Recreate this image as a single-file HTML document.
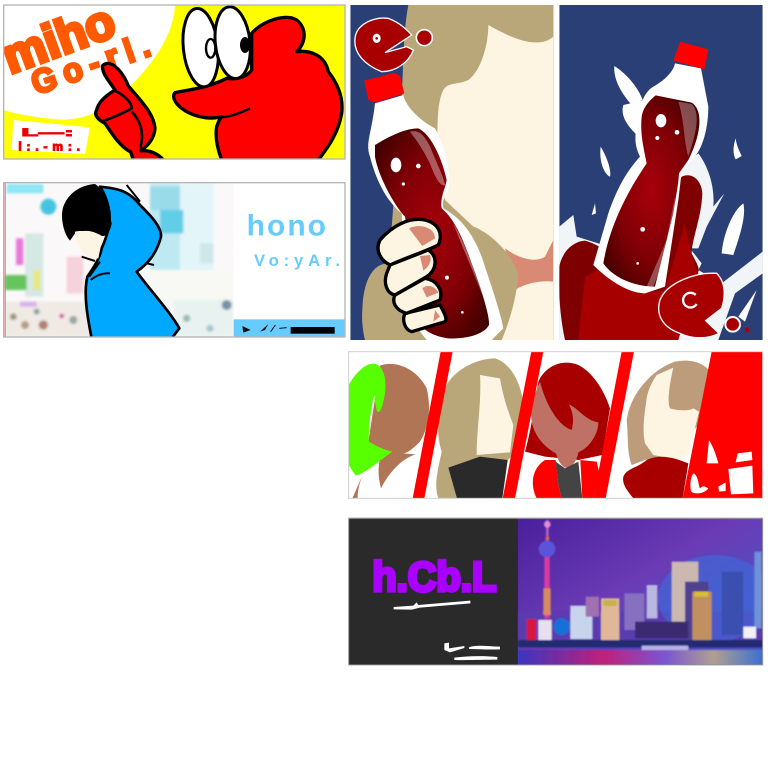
<!DOCTYPE html>
<html lang="en">
<head>
<meta charset="utf-8">
<title>Poster collage</title>
<style>
html,body{margin:0;padding:0;background:#fff;width:768px;height:768px;overflow:hidden}
svg{display:block}
text{font-family:"Liberation Sans",sans-serif;font-weight:bold}
</style>
</head>
<body>
<svg xmlns="http://www.w3.org/2000/svg" width="768" height="768" viewBox="0 0 768 768">
<defs>
<radialGradient id="cola" cx="50%" cy="50%" r="60%"><stop offset="0" stop-color="#a8000a"/><stop offset=".6" stop-color="#7e0005"/><stop offset="1" stop-color="#470000"/></radialGradient>
<linearGradient id="sky" x1="0" y1="0" x2="1" y2="1"><stop offset="0" stop-color="#4a1f9c"/><stop offset=".45" stop-color="#6a3bb5"/><stop offset="1" stop-color="#3f5fd0"/></linearGradient>
<linearGradient id="water" x1="0" y1="0" x2="1" y2="0"><stop offset="0" stop-color="#3a35c0"/><stop offset=".35" stop-color="#c0207a"/><stop offset=".6" stop-color="#7a55d0"/><stop offset=".8" stop-color="#b0a090"/><stop offset="1" stop-color="#3a70d0"/></linearGradient>
<filter id="blur3" x="-10%" y="-10%" width="120%" height="120%"><feGaussianBlur stdDeviation="4"/></filter>
<filter id="blur1" x="-10%" y="-10%" width="120%" height="120%"><feGaussianBlur stdDeviation="2"/></filter>
<clipPath id="c1"><rect x="11" y="15" width="1024" height="462"/></clipPath>
<clipPath id="c2"><rect x="11" y="548" width="1024" height="463"/></clipPath>
<clipPath id="c3"><rect x="16" y="15" width="609" height="1005"/></clipPath>
<clipPath id="c4"><rect x="643" y="15" width="610" height="1005"/></clipPath>
<clipPath id="c5"><rect x="11" y="20" width="1242" height="440"/></clipPath>
<clipPath id="c6"><rect x="519" y="520" width="734" height="440"/></clipPath>
</defs>

<!-- LEFT COLUMN -->
<g transform="scale(.33333)">
  <g clip-path="url(#c1)">
    <rect x="11" y="15" width="1024" height="462" fill="#ffff00"/>
    <path d="M11,15 L525,15 C520,120 440,210 380,270 C330,330 240,365 170,358 C100,352 40,340 11,330Z" fill="#fff"/>
    <text transform="translate(30,222) rotate(-20) scale(1.05,1.3)" font-size="112" fill="#ff5a00" stroke="#ff5a00" stroke-width="9" textLength="330" lengthAdjust="spacingAndGlyphs">miho</text>
    <text transform="translate(108,285) rotate(-19) scale(1,1.05)" font-size="96" fill="#ff5a00" stroke="#ff5a00" stroke-width="8" textLength="370" lengthAdjust="spacing">Go-rl.</text>
    <path d="M40,360 L270,382 L255,462 L35,450Z" fill="#fff"/>
    <text x="65" y="408" font-size="34" fill="#ee0000" stroke="#ee0000" stroke-width="3" textLength="155" lengthAdjust="spacingAndGlyphs">L---:</text>
    <text x="55" y="452" font-size="36" fill="#ee0000" stroke="#ee0000" stroke-width="3" textLength="185" lengthAdjust="spacing">l:.-m:.</text>
    <path d="M755,100 C790,60 860,40 890,60 C920,85 920,125 890,155 C930,150 975,165 985,215 C1020,260 1030,300 1025,340 C1015,400 985,440 955,480 L665,480 C650,440 645,410 650,380 C655,365 660,355 665,350 C620,362 570,345 545,325 C525,310 515,290 525,278 C560,270 620,265 680,235 C720,240 745,225 755,210Z" fill="#ff0000" stroke="#000" stroke-width="10" stroke-linejoin="round"/>
    <path d="M750,325 C720,340 690,350 665,352" fill="none" stroke="#000" stroke-width="7"/>
    <ellipse cx="602" cy="143" rx="52" ry="118" transform="rotate(-6 602 143)" fill="#fff" stroke="#000" stroke-width="9"/>
    <ellipse cx="698" cy="128" rx="52" ry="108" transform="rotate(-6 698 128)" fill="#fff" stroke="#000" stroke-width="9"/>
    <ellipse cx="632" cy="145" rx="14" ry="28" fill="#fff" stroke="#000" stroke-width="7"/>
    <ellipse cx="735" cy="135" rx="15" ry="24" fill="#000"/>
    <path d="M308,197 C325,178 362,200 385,258 C420,300 462,340 465,385 C462,420 440,440 422,452 C445,450 472,458 490,480 L400,480 L392,456 C360,440 335,400 315,370 C295,360 280,345 290,330 C295,305 320,285 345,270 C325,240 305,220 308,197Z" fill="#ff0000" stroke="#000" stroke-width="10" stroke-linejoin="round"/>
    <path d="M345,272 C370,285 395,305 395,325 C360,345 330,355 305,365 M395,335 C420,360 435,400 420,445" fill="none" stroke="#000" stroke-width="8"/>
  </g>
  <rect x="11" y="15" width="1024" height="462" fill="none" stroke="#b5b5b5" stroke-width="4"/>

  <g clip-path="url(#c2)">
    <rect x="11" y="548" width="690" height="463" fill="#fbf8f9"/>
    <g filter="url(#blur3)">
      <rect x="450" y="550" width="190" height="260" fill="#bfe9f2"/>
      <rect x="540" y="550" width="100" height="260" fill="#e3f5f8"/>
      <rect x="450" y="560" width="90" height="70" fill="#9adbea"/>
      <rect x="480" y="630" width="70" height="70" fill="#62cde6"/>
      <rect x="600" y="730" width="40" height="60" fill="#cfe6ea"/>
      <rect x="20" y="552" width="110" height="28" fill="#8fe6f5"/>
      <circle cx="145" cy="620" r="24" fill="#45c4e2"/>
      <rect x="75" y="700" width="55" height="190" fill="#d5e8e4"/>
      <rect x="48" y="715" width="22" height="80" fill="#e878d8"/>
      <rect x="15" y="825" width="65" height="45" fill="#66c45c"/>
      <rect x="200" y="770" width="50" height="110" fill="#f6d2dc"/>
      <rect x="100" y="810" width="20" height="60" fill="#e8e880"/>
      <rect x="15" y="905" width="260" height="105" fill="#efeae4"/>
      <rect x="60" y="905" width="50" height="15" fill="#d8b0e8"/>
      <circle cx="40" cy="950" r="10" fill="#a09080"/><circle cx="75" cy="975" r="12" fill="#b89c84"/><circle cx="130" cy="975" r="14" fill="#b08070"/><circle cx="220" cy="960" r="12" fill="#98a4a4"/><circle cx="185" cy="948" r="7" fill="#d040a0"/><circle cx="110" cy="935" r="9" fill="#8aa0a8"/>
      <rect x="440" y="810" width="260" height="100" fill="#f8f9f4"/>
      <rect x="520" y="900" width="180" height="110" fill="#e8f3f1"/>
      <circle cx="680" cy="915" r="15" fill="#7890a4"/><circle cx="560" cy="955" r="11" fill="#9cb8b8"/><circle cx="630" cy="985" r="11" fill="#a8c8c8"/>
    </g>
    <rect x="14" y="548" width="3" height="463" fill="#e86a70"/>
    <rect x="701" y="548" width="334" height="463" fill="#fff"/>
    <rect x="701" y="958" width="334" height="53" fill="#66ccff"/>
    <rect x="872" y="981" width="132" height="20" fill="#000"/>
    <path d="M727,978 L752,990 L730,998Z M780,995 L805,972 L795,990Z" fill="#111"/>
    <path d="M812,995 L826,975 M838,985 L860,983" stroke="#111" stroke-width="3"/>
    <text x="740" y="706" font-size="90" fill="#66ccff" textLength="238" lengthAdjust="spacing">hono</text>
    <text x="762" y="798" font-size="50" fill="#66ccff" textLength="258" lengthAdjust="spacing">Vo:yAr.</text>
    <path d="M300,560 C350,565 385,570 420,615 C450,645 485,680 483,710 C470,760 445,790 410,815 C450,870 510,935 538,985 L515,1015 L275,1015 C262,950 250,880 262,830 C290,790 300,770 305,745 C325,700 335,660 325,620 C318,590 310,575 300,560Z" fill="#00a8ff" stroke="#000" stroke-width="8" stroke-linejoin="round"/>
    <path d="M285,552 C310,565 325,620 335,670 C330,700 315,720 290,700 C270,690 245,690 225,700 L210,722 C190,700 180,650 190,620 C205,580 240,555 285,552Z" fill="#000"/>
    <path d="M225,695 C245,690 265,695 290,700 C305,705 310,710 305,725 L295,775 L280,775 C255,770 240,745 225,720Z" fill="#fdf4e4"/>
    <path d="M245,770 L285,783 M300,785 L268,830 M272,840 C290,825 310,818 330,820 M380,555 L420,605 M440,790 L462,795" fill="none" stroke="#000" stroke-width="6"/>
  </g>
  <rect x="11" y="548" width="1024" height="463" fill="none" stroke="#b5b5b5" stroke-width="4"/>
</g>

<!-- COLA POSTERS -->
<g transform="translate(345,0) scale(.33333)">
  <g clip-path="url(#c3)">
    <rect x="16" y="15" width="609" height="1005" fill="#2a3f76"/>
    <path d="M190,15 L625,15 L625,720 L300,720 L140,680 L170,300 C175,200 175,90 190,15Z" fill="#b9a77a"/>
    <path d="M430,75 C500,115 580,150 625,110 L625,1020 L470,1020 L385,680 L300,600 L275,420 C280,370 275,310 295,270 C310,245 340,255 370,240 C410,210 430,130 430,75Z" fill="#fdf4e1"/>
    <path d="M480,745 C520,775 570,790 600,770 L625,720 L625,845 C590,840 540,850 510,870Z" fill="#d98a74"/>
    <path d="M385,680 C440,700 510,770 520,830 C515,880 500,950 470,1020 L60,1020 C52,990 50,950 52,930 C55,830 90,790 130,790Z" fill="#b9a77a"/>
    <path d="M90,310 L175,285 C185,330 240,370 270,385 C300,440 320,520 310,570 C300,590 290,600 295,625 C340,650 380,690 410,770 C440,860 470,950 475,985 L440,1020 L245,1020 L190,950 L170,640 C120,600 90,530 75,470 C60,430 80,400 90,310Z" fill="#fff"/>
    <path d="M58,242 L148,218 L165,228 L178,280 L92,308 L70,300Z" fill="#ff0000"/>
    <path d="M90,435 C130,410 180,385 220,385 C255,400 290,470 305,540 C300,570 285,590 290,625 C320,650 345,690 380,790 C410,870 435,950 432,975 C420,1000 370,1018 310,1015 C270,1010 245,995 230,980 L180,650 C150,620 100,530 90,470Z" fill="url(#cola)"/>
    <path d="M195,395 C220,390 235,400 255,440 C275,490 295,530 300,555 C285,560 270,530 255,490 C235,450 215,420 195,395Z M325,670 C350,710 385,800 410,880 C400,850 360,760 325,670Z" fill="#fff" fill-opacity=".35" stroke="#fff" stroke-opacity=".15"/>
    <ellipse cx="153" cy="495" rx="16" ry="22" fill="#fff"/>
    <circle cx="220" cy="498" r="7" fill="#fff"/>
    <circle cx="175" cy="552" r="5" fill="#fff"/>
    <circle cx="306" cy="833" r="6" fill="#fff"/>
    <circle cx="352" cy="937" r="4" fill="#fff"/>
    <g stroke="#000" stroke-width="10" fill="#fdf4e1" stroke-linejoin="round">
      <path d="M180,940 L285,915 C305,950 305,960 300,965 L200,995 C180,990 170,960 180,940Z"/>
      <path d="M150,885 L240,835 C275,840 295,870 285,900 L185,940 C150,930 140,905 150,885Z"/>
      <path d="M135,795 L250,750 C280,770 275,810 245,830 L150,885 C125,880 115,850 125,820Z"/>
      <path d="M105,720 C140,680 190,650 240,660 C280,670 295,700 280,735 C240,755 190,770 135,795 C105,780 90,750 105,720Z"/>
    </g>
    <path d="M192,685 C220,670 270,680 270,715 L232,738Z M225,768 L255,765 C262,785 250,800 235,812Z M232,865 C250,850 270,860 280,878 L245,892Z M270,930 L285,950 L265,965Z" fill="#d98a74"/>
    <path d="M30,115 C35,70 90,50 130,55 C170,70 190,95 200,105 L120,158 L185,140 L205,150 C190,190 150,215 110,215 C60,195 25,160 30,115Z" fill="#a80000" stroke="#fff" stroke-width="4"/>
    <ellipse cx="95" cy="115" rx="12" ry="14" fill="#fff"/>
    <circle cx="95" cy="115" r="4" fill="#a80000"/>
    <circle cx="238" cy="113" r="24" fill="#a80000" stroke="#fff" stroke-width="5"/>
  </g>
  <g clip-path="url(#c4)">
    <rect x="643" y="15" width="610" height="1005" fill="#2a3f76"/>
    <path d="M643,680 L685,645 L695,710 L775,735 L880,480 L1010,500 L1060,460 C1090,500 1110,560 1105,620 L1138,580 L1085,680 L1060,745 L1035,745 L1070,790 L1060,810 L1130,850 L1253,755 L1253,820 L1170,880 L1120,1020 L643,1020Z" fill="#f1f5f7"/>
    <path d="M808,198 C850,225 880,265 893,300 L860,315 C830,280 805,240 808,198Z M835,315 L900,300 L880,410 C850,380 825,350 835,315Z M767,440 C785,470 800,510 795,530 C775,520 762,480 767,440Z M1172,415 C1175,440 1185,455 1190,468 L1172,478 C1162,460 1165,435 1172,415Z M750,610 L753,640 L740,645Z M1195,610 C1205,650 1180,720 1165,765 L1130,760 C1135,700 1165,630 1195,610Z" fill="#fff"/>
    <path d="M643,800 C650,760 680,725 720,722 C750,730 770,745 800,760 L990,570 L1010,530 C1040,515 1070,540 1072,580 C1070,650 1040,720 1040,760 C1060,800 1070,810 1050,830 L960,1020 L660,1020 C645,950 640,880 643,800Z" fill="#7e0000"/>
    <path d="M720,830 L760,810 C850,880 900,880 960,870 L1020,670 C1030,730 1045,790 1060,820 L1000,1020 L700,1020Z" fill="#a60000"/>
    <path d="M990,190 L1068,205 L1090,320 C1090,390 1070,450 1045,475 L1010,515 L1000,600 L960,860 L900,880 C850,880 790,840 745,795 L790,640 C815,570 840,520 885,470 C865,430 870,400 880,350 C885,310 900,275 925,260 C960,240 985,215 990,190Z" fill="#fff"/>
    <path d="M1005,125 L1090,148 L1078,208 L985,182Z" fill="#ff0000"/>
    <path d="M932,286 L1040,308 C1075,330 1070,400 1030,480 L1002,520 C1000,560 990,600 985,640 L930,860 C880,860 810,840 775,790 C790,700 830,600 905,490 C895,440 885,400 890,350 C895,320 915,300 932,286Z" fill="url(#cola)"/>
    <path d="M1000,305 L1040,312 C1070,340 1050,410 1030,470 C1015,420 1020,370 1000,305Z M990,590 L965,720 L905,860 L925,860 C950,800 985,690 990,590Z" fill="#fff" fill-opacity=".3"/>
    <ellipse cx="948" cy="362" rx="16" ry="20" fill="#fff"/>
    <circle cx="996" cy="397" r="7" fill="#fff"/>
    <circle cx="937" cy="414" r="6" fill="#fff"/>
    <circle cx="893" cy="688" r="7" fill="#fff"/>
    <circle cx="878" cy="790" r="4" fill="#fff"/>
    <path d="M945,900 C965,850 1050,815 1115,820 C1145,850 1140,895 1130,925 L1082,962 L1122,1000 C1090,1018 1040,1018 1005,1000 C960,985 930,950 945,900Z" fill="#a80000" stroke="#fff" stroke-width="4"/>
    <path d="M1052,885 A22,22 0 1,0 1055,912" fill="none" stroke="#fff" stroke-width="7"/>
    <circle cx="1163" cy="973" r="22" fill="#a80000" stroke="#fff" stroke-width="6"/>
    <path d="M1180,950 L1235,870 L1200,965Z" fill="#fff"/>
    <circle cx="1207" cy="990" r="7" fill="#a80000"/>
  </g>
</g>

<!-- LOWER RIGHT -->
<g transform="translate(345,345) scale(.33333)">
  <g clip-path="url(#c5)">
    <rect x="11" y="20" width="1242" height="440" fill="#fff"/>
    <path d="M105,62 C150,45 215,70 245,130 C260,190 250,250 225,290 C200,315 185,325 175,325 L212,328 C170,340 130,385 108,430 C100,400 98,370 105,340 L70,290Z" fill="#b07554"/>
    <path d="M55,385 L22,460 L38,460 C38,430 45,410 55,385Z" fill="#b07554"/>
    <path d="M11,120 C40,70 80,40 105,65 C125,90 125,130 115,170 C110,195 100,210 95,195 C88,170 90,160 88,150 C75,200 70,260 72,290 C95,305 120,315 143,320 C110,340 70,380 32,392 L11,360Z" fill="#58ff00"/>
    <path d="M300,130 C320,80 390,40 450,40 C500,55 530,120 535,180 L505,330 L488,345 L335,460 L280,460 C265,420 280,370 290,320 C270,260 280,180 300,130Z" fill="#b9a77a"/>
    <path d="M405,90 L465,100 C475,160 490,200 505,240 L495,322 L395,330 C395,250 410,170 405,90Z" fill="#fdf4e1"/>
    <path d="M310,368 L405,335 L488,345 L472,460 L336,460Z" fill="#2a2a2a"/>
    <path d="M580,110 C600,65 650,40 700,60 C740,80 775,130 795,190 L772,330 L700,345 L600,335 L540,320 C560,250 570,170 580,110Z" fill="#a80000"/>
    <path d="M585,110 C600,170 635,240 680,255 C690,220 680,195 672,178 C700,190 720,225 760,232 C760,270 730,310 700,322 C695,350 680,370 660,368 C635,350 640,335 632,325 C590,300 555,260 558,195 C565,160 575,130 585,110Z" fill="#bf7166"/>
    <path d="M600,345 L632,345 L640,420 L650,460 L575,460 C555,420 560,370 600,345Z M706,345 L755,350 L762,380 L745,460 L712,460Z" fill="#ff0000"/>
    <path d="M632,350 L660,370 L700,350 L712,460 L650,460 L640,420Z" fill="#444"/>
    <path d="M850,200 C870,130 930,70 990,50 C1040,40 1080,55 1100,85 L1060,240 L975,330 L900,345 L860,360 C845,320 850,270 845,225Z" fill="#bd9c7c"/>
    <path d="M935,90 L985,68 C975,110 965,170 975,190 C990,195 1030,200 1045,190 L1062,200 L1030,330 L1000,345 L925,330 L900,295 C890,250 900,200 905,160 C910,130 925,105 935,90Z" fill="#fdf4e1"/>
    <path d="M905,345 C950,325 990,340 1030,355 L1013,460 L865,460 C850,440 830,420 835,395 C845,370 875,370 905,345Z" fill="#a80000"/>
    <path d="M287,20 L323,20 L238,460 L203,460Z" fill="#ff0000"/>
    <path d="M559,20 L595,20 L510,460 L473,460Z" fill="#ff0000"/>
    <path d="M830,20 L867,20 L782,460 L745,460Z" fill="#ff0000"/>
    <path d="M1100,20 L1253,20 L1253,460 L1013,460Z" fill="#ff0000"/>
    <path d="M1092,285 C1105,305 1115,335 1120,355 L1085,355Z M1178,325 L1220,320 L1222,345 L1172,352Z M1150,372 L1222,362 L1225,445 L1158,448Z M1045,385 C1060,390 1060,420 1065,430 C1075,420 1080,425 1090,430 C1080,445 1050,450 1038,440 C1035,420 1035,400 1045,385Z M1120,425 L1142,412 L1142,438 L1122,440Z" fill="#fff"/>
  </g>
  <rect x="11" y="20" width="1242" height="440" fill="none" stroke="#cfcfcf" stroke-width="3"/>

  <g>
    <rect x="11" y="520" width="508" height="440" fill="#2a2a2a"/>
    <text transform="translate(82,738) scale(1,1.35)" font-size="92" fill="#aa00ff" stroke="#aa00ff" stroke-width="8" textLength="372" lengthAdjust="spacingAndGlyphs">h.Cb.L</text>
    <path d="M146,786 L205,782 L215,772 L220,780 L376,767 L376,775 L225,788 L200,794 L146,793Z" fill="#fff"/>
    <path d="M298,895 L312,893 L312,910 L358,903 L358,909 L315,922 L298,915Z M372,907 C395,898 430,905 465,905 L465,913 C430,915 400,912 372,912Z M328,938 C370,932 420,932 457,936 L457,944 C420,944 370,946 328,945Z" fill="#fff"/>
    <g clip-path="url(#c6)">
      <rect x="519" y="520" width="734" height="440" fill="url(#sky)"/>
      <g filter="url(#blur1)">
        <rect x="519" y="800" width="734" height="110" fill="#5a3ab0"/>
        <ellipse cx="1110" cy="760" rx="170" ry="130" fill="#3f6ad8" opacity=".65"/>
        <rect x="598" y="620" width="16" height="200" fill="#d83aa0"/>
        <rect x="595" y="730" width="22" height="80" fill="#d88a60"/>
        <rect x="603" y="525" width="8" height="95" fill="#b060c0"/>
        <circle cx="607" cy="538" r="10" fill="#e48ad8"/>
        <circle cx="607" cy="580" r="6" fill="#e06040"/>
        <circle cx="606" cy="612" r="25" fill="#5a55d8"/>
        <rect x="545" y="822" width="28" height="65" fill="#d81840"/>
        <rect x="580" y="825" width="40" height="60" fill="#e8e0ee"/>
        <circle cx="650" cy="845" r="25" fill="#1870d8"/>
        <rect x="676" y="782" width="66" height="100" fill="#c8d4ec"/>
        <rect x="768" y="760" width="55" height="130" fill="#e0b898"/>
        <rect x="775" y="765" width="40" height="18" fill="#c8b050"/>
        <rect x="722" y="755" width="40" height="60" fill="#a070b0"/>
        <rect x="838" y="745" width="60" height="110" fill="#8870c0"/>
        <rect x="905" y="720" width="32" height="100" fill="#b8b8e0"/>
        <rect x="980" y="650" width="80" height="190" fill="#cbb8b0"/>
        <rect x="1020" y="710" width="70" height="170" fill="#504090"/>
        <rect x="1042" y="740" width="58" height="160" fill="#c09060"/>
        <rect x="1048" y="740" width="42" height="15" fill="#d8c030"/>
        <rect x="1130" y="680" width="65" height="190" fill="#3a50b0"/>
        <rect x="1228" y="620" width="22" height="230" fill="#7090d8"/>
        <rect x="1195" y="845" width="38" height="35" fill="#f4f0fa"/>
        <rect x="870" y="830" width="160" height="50" fill="#3a2a70"/>
        <rect x="519" y="885" width="734" height="22" fill="#242a70"/>
        <rect x="890" y="902" width="140" height="14" fill="#b8b0e8"/>
        <rect x="519" y="915" width="734" height="45" fill="url(#water)"/>
      </g>
    </g>
  </g>
  <rect x="11" y="520" width="1242" height="440" fill="none" stroke="#999" stroke-width="3"/>
</g>
</svg>
</body>
</html>
